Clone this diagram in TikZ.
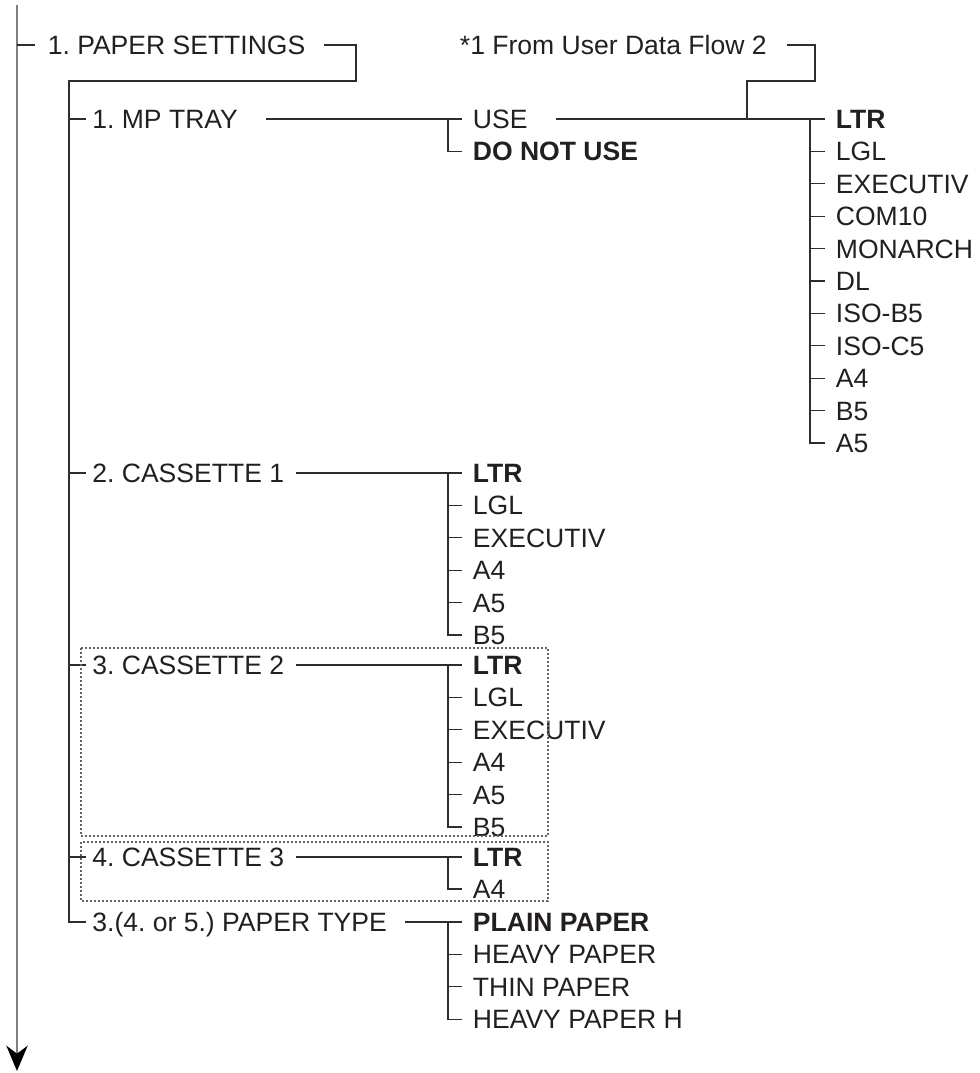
\documentclass[tikz,border=0pt]{standalone}
\usepackage{fontspec}
\setmainfont{Liberation Sans}
\usetikzlibrary{arrows.meta}
\definecolor{MenuText}{RGB}{35,31,32}
\definecolor{MenuLine}{RGB}{45,45,45}
\definecolor{MenuSpine}{RGB}{128,128,128}
\definecolor{MenuDots}{RGB}{100,100,100}
\tikzset{
  lbl/.style={anchor=west, inner ysep=0pt, text height=14.2pt, text depth=0pt,
    text=MenuText, font=\fontsize{19.9}{24}\selectfont\frenchspacing},
  root/.style={lbl, inner xsep=9.4pt},
  branch/.style={lbl, inner xsep=4.6pt},
  leaf/.style={lbl, inner xsep=8pt},
  conn/.style={MenuLine, line width=0.9pt},
  spine/.style={MenuSpine, line width=1.5pt},
  dotbox/.style={MenuDots, line width=0.9pt, dash pattern=on 1.5pt off 1.5pt}
}
\begin{document}
\begin{tikzpicture}[x=0.75pt,y=-0.75pt]
  \path[use as bounding box] (0,0) rectangle (979,1073);
  % spine of the menu
  \coordinate (mtop) at (17,5);
  \coordinate (mbot) at (17,1071);
  \draw[spine, -{Stealth[length=19pt,width=16pt,inset=6pt,color=black]}] (mtop) -- (mbot);

  % first level
  \node[root] (ps) at (35,45) {1. PAPER SETTINGS};
  \node[leaf] (src) at (449,45) {*1 From User Data Flow 2};
  \draw[conn] (mtop |- ps.west) -- (ps.west);

  % second level
  \node[branch] (mp) at (86,119) {1. MP TRAY};
  \node[branch] (cas1) at (86,473) {2. CASSETTE 1};
  \node[branch] (cas2) at (86,665) {3. CASSETTE 2};
  \node[branch] (cas3) at (86,857) {4. CASSETTE 3};
  \node[branch] (pt) at (86,922) {3.(4. or 5.) PAPER TYPE};
  \coordinate (psbend) at (356,81);
  \coordinate (subtop) at (69,81);
  \draw[conn] ([xshift=4.1pt]ps.east) -| (psbend) -- (subtop) |- (pt.west);
  \foreach \b in {mp,cas1,cas2,cas3}
    \draw[conn] (subtop |- \b.west) -- (\b.west);

  % MP tray
  \node[leaf] (use) at (462,119) {USE};
  \node[leaf] (dnu) at (462,151.4) {\bfseries DO NOT USE};
  \coordinate (usev) at ([xshift=-10.5pt]use.west);
  \draw[conn] ([xshift=16.4pt]mp.east) -- (use.west);
  \draw[conn] (usev) |- (dnu.west);

  \foreach \t [count=\i] in {{\bfseries LTR},LGL,EXECUTIV,COM10,MONARCH,DL,ISO-B5,ISO-C5,A4,B5,A5}
    \node[leaf] (m\i) at (825,{119+32.4*(\i-1)}) {\t};
  \coordinate (mv) at ([xshift=-11.25pt]m1.west);
  \draw[conn] ([xshift=13pt]use.east) -- (m1.west);
  \draw[conn] (mv) |- (m11.west);
  \foreach \i in {2,...,10}
    \draw[conn] (mv |- m\i.west) -- (m\i.west);

  \coordinate (srcbend) at (815,81);
  \coordinate (jsrc) at (747,119);
  \draw[conn] ([xshift=7pt]src.east) -| (srcbend) -| (jsrc);

  % cassette 1
  \foreach \t [count=\i] in {{\bfseries LTR},LGL,EXECUTIV,A4,A5,B5}
    \node[leaf] (a\i) at (462,{473+32.4*(\i-1)}) {\t};
  \coordinate (av) at ([xshift=-10.5pt]a1.west);
  \draw[conn] ([xshift=4.4pt]cas1.east) -- (a1.west);
  \draw[conn] (av) |- (a6.west);
  \foreach \i in {2,...,5}
    \draw[conn] (av |- a\i.west) -- (a\i.west);

  % cassette 2
  \foreach \t [count=\i] in {{\bfseries LTR},LGL,EXECUTIV,A4,A5,B5}
    \node[leaf] (b\i) at (462,{665+32.4*(\i-1)}) {\t};
  \coordinate (bv) at ([xshift=-10.5pt]b1.west);
  \draw[conn] ([xshift=4.4pt]cas2.east) -- (b1.west);
  \draw[conn] (bv) |- (b6.west);
  \foreach \i in {2,...,5}
    \draw[conn] (bv |- b\i.west) -- (b\i.west);

  % cassette 3
  \node[leaf] (c1) at (462,857) {\bfseries LTR};
  \node[leaf] (c2) at (462,889) {A4};
  \coordinate (cv) at ([xshift=-10.5pt]c1.west);
  \draw[conn] ([xshift=4.4pt]cas3.east) -- (c1.west);
  \draw[conn] (cv) |- (c2.west);

  % paper type
  \foreach \t [count=\i] in {{\bfseries PLAIN PAPER},HEAVY PAPER,THIN PAPER,HEAVY PAPER H}
    \node[leaf] (p\i) at (462,{922+32.4*(\i-1)}) {\t};
  \coordinate (pv) at ([xshift=-10.5pt]p1.west);
  \draw[conn] ([xshift=8.9pt]pt.east) -- (p1.west);
  \draw[conn] (pv) |- (p4.west);
  \foreach \i in {2,3}
    \draw[conn] (pv |- p\i.west) -- (p\i.west);

  % optional cassettes
  \draw[dotbox] (81,648) rectangle (548,836);
  \draw[dotbox] (81,842) rectangle (548,901);
\end{tikzpicture}
\end{document}
